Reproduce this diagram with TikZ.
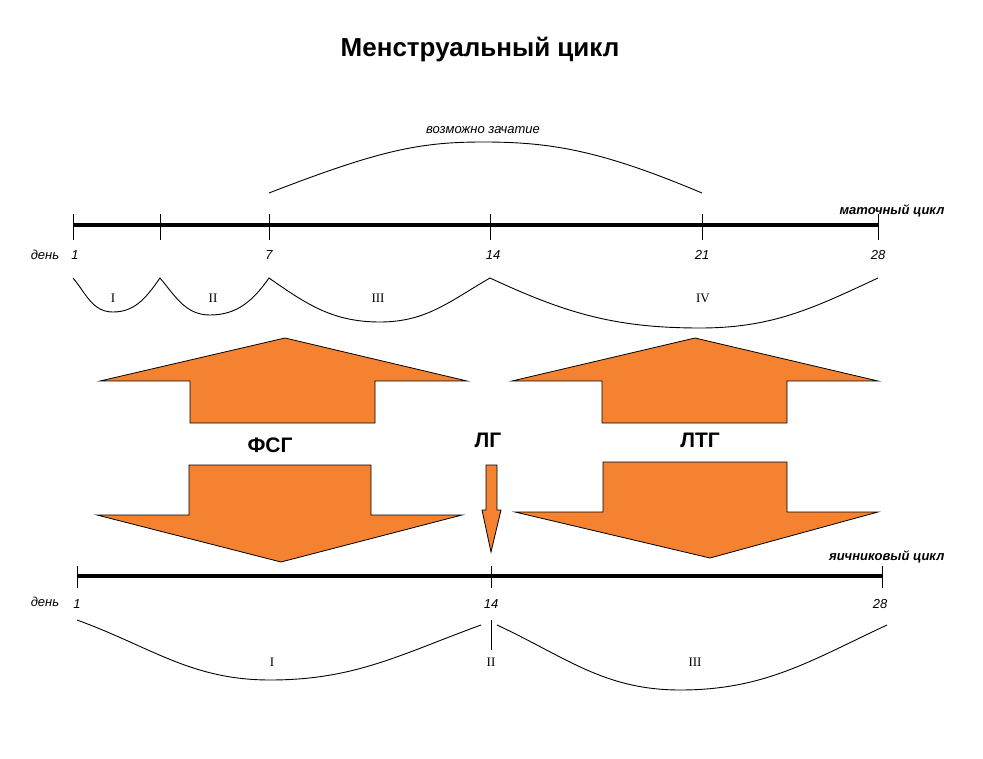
\documentclass[tikz,border=0pt]{standalone}
\usepackage{fontspec}
\setmainfont{Liberation Sans}
\newfontfamily\romfont{Liberation Serif}
\begin{document}
\begin{tikzpicture}[x=1pt,y=-1pt,
  axis/.style={line width=4pt},
  tk/.style={line width=1pt},
  crv/.style={line width=0.9pt},
  lab/.style={font=\fontsize{13}{13}\selectfont\itshape},
  bl/.style={font=\fontsize{13}{13}\selectfont\bfseries\itshape},
  rom/.style={font=\fontsize{13}{13}\selectfont\romfont},
  hor/.style={font=\fontsize{21}{21}\selectfont\bfseries},
  arr/.style={fill=orange!80!red!90!yellow, fill={rgb,255:red,245;green,130;blue,49}, draw=black, line width=0.8pt}]
\useasboundingbox (0,0) rectangle (983,759);
\node[font=\fontsize{26}{26}\selectfont\bfseries] (title) at (480,50) {Менструальный цикл};
% upper axis
\coordinate (u0) at (73,225); \coordinate (u28) at (878,225);
\draw[axis] (u0) -- (u28);
\foreach \x/\n in {73/a,160/b,269/c,490/d,702/e,878/f}{\draw[tk] (\x,214) -- (\x,240);}
\node[lab] (d1) at (45,255) {день};
\node[lab] (n1) at (75,255) {1};
\node[lab] (n7) at (269,255) {7};
\node[lab] (n14) at (493,255) {14};
\node[lab] (n21) at (702,255) {21};
\node[lab] (n28) at (878,255) {28};
\node[bl,anchor=east] (mc) at (948,211) {маточный цикл};
\node[lab] (vz) at (483,130) {возможно зачатие};
\draw[crv] (269,193) .. controls (380,150) and (420,142) .. (483,142) .. controls (550,142) and (600,150) .. (702,193);
% phases upper
\draw[crv] (73,278) to[out=-50,in=180] (113,312) to[out=0,in=-125] (160,278)
  to[out=-50,in=180] (210,315) to[out=0,in=-125] (269,278)
  to[out=-35,in=180] (380,322) to[out=0,in=-150] (490,278)
  to[out=-25,in=180] (700,328) to[out=0,in=-155] (878,278);
\node[rom] (p1) at (113,298) {I};
\node[rom] (p2) at (213,298) {II};
\node[rom] (p3) at (378,298) {III};
\node[rom] (p4) at (703,298) {IV};
% up arrows
\draw[arr] (285,338) -- (467,381) -- (375,381) -- (375,423) -- (190,423) -- (190,381) -- (100,381) -- cycle;
\draw[arr] (695,338) -- (878,381) -- (787,381) -- (787,423) -- (602,423) -- (602,381) -- (512,381) -- cycle;
\node[hor] (fsg) at (270,445) {ФСГ};
\node[hor] (lg) at (488,440) {ЛГ};
\node[hor] (ltg) at (700,440) {ЛТГ};
% down arrows
\draw[arr] (189,465) -- (371,465) -- (371,515) -- (462,515) -- (281,562) -- (97,515) -- (189,515) -- cycle;
\draw[arr] (603,462) -- (787,462) -- (787,512) -- (878,512) -- (710,558) -- (515,512) -- (603,512) -- cycle;
\draw[arr] (486,465) -- (497,465) -- (497,510) -- (501,510) -- (491,552) -- (482,510) -- (486,510) -- cycle;
% lower axis
\coordinate (l0) at (77,576); \coordinate (l28) at (882,576);
\draw[axis] (l0) -- (l28);
\foreach \x in {77,491,882}{\draw[tk] (\x,566) -- (\x,588);}
\node[bl,anchor=east] (yc) at (948,557) {яичниковый цикл};
\node[lab] (d2) at (45,602) {день};
\node[lab] (m1) at (77,604) {1};
\node[lab] (m14) at (491,604) {14};
\node[lab] (m28) at (880,604) {28};
\draw[crv] (77,620) to[out=-20,in=180] (270,680) to[out=0,in=-160] (481,625);
\draw[crv] (497,625) to[out=-25,in=180] (680,690) to[out=0,in=-155] (887,625);
\draw[crv] (491,620) -- (491,650);
\node[rom] (q1) at (272,662) {I};
\node[rom] (q2) at (491,662) {II};
\node[rom] (q3) at (695,662) {III};
\end{tikzpicture}
\end{document}
